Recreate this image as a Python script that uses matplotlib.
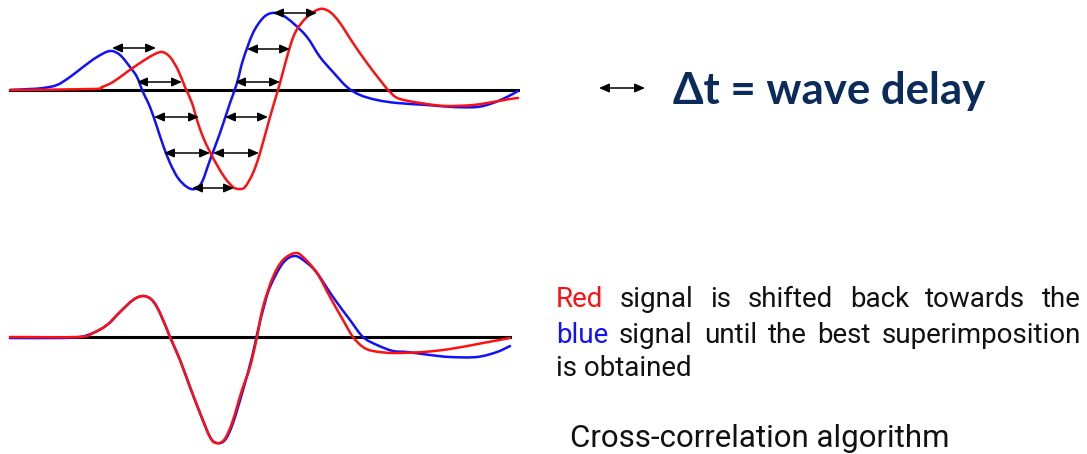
import matplotlib
matplotlib.use("Agg")
import matplotlib.pyplot as plt
from matplotlib.path import Path
from matplotlib.patches import PathPatch
import numpy as np

# ---------------- data (time in px-like units, signal level in px rows) ----------------
top_blue_t = [10, 30, 43, 57, 70, 83, 97, 110, 120, 130, 137, 143, 150, 157, 163, 170, 178, 187, 195, 202,
              210, 220, 230, 237, 243, 253, 263, 272, 282, 293, 307, 320, 333, 347, 360, 377, 397, 427, 453,
              477, 493, 507, 518]
top_blue_y = [90, 89, 88, 85, 77, 67, 57, 51, 55, 67, 77, 92, 107, 127, 145, 163, 178, 187, 189, 182,
              160, 133, 103, 83, 60, 33, 18, 13, 15, 23, 37, 57, 72, 87, 95, 100, 103, 105, 107,
              107, 103, 97, 91]

top_red_t = [10, 93, 102, 113, 127, 140, 153, 162, 170, 178, 185, 192, 197, 203, 210, 217, 225, 233, 239, 245,
             253, 260, 270, 280, 287, 295, 307, 320, 330, 340, 353, 367, 380, 390, 400, 427, 447, 473, 493,
             510, 518]
top_red_y = [90, 89, 87, 82, 72, 63, 55, 52, 57, 70, 87, 103, 120, 137, 152, 165, 178, 187, 189, 187,
             173, 153, 117, 83, 57, 33, 17, 9, 12, 23, 43, 63, 80, 92, 99, 104, 106, 105, 102,
             99, 98]

bot_blue_t = [10, 60, 80, 93, 107, 120, 133, 143, 152, 160, 170, 180, 190, 200, 210, 217, 225, 233, 243, 252,
              258, 263, 270, 283, 295, 307, 317, 333, 350, 363, 377, 393, 407, 430, 450, 477, 497, 510]
bot_blue_y = [338, 338, 337, 333, 325, 312, 300, 296, 300, 313, 337, 360, 387, 413, 437, 443, 440, 423, 390, 357,
              330, 310, 287, 263, 256, 263, 273, 297, 320, 337, 345, 351, 352, 355, 357, 357, 352, 346]

bot_red_t = [10, 78, 93, 107, 120, 133, 143, 152, 160, 170, 180, 190, 200, 210, 216, 224, 232, 242, 250, 257,
             263, 273, 283, 295, 303, 317, 330, 343, 353, 363, 373, 393, 423, 450, 483, 510]
bot_red_y = [337, 337, 333, 325, 312, 300, 296, 300, 313, 337, 360, 387, 413, 437, 443, 440, 423, 390, 367, 337,
             307, 277, 260, 253, 257, 273, 297, 320, 337, 347, 351, 353, 352, 349, 343, 338]

# delay arrows (row, blue side, red side)
arrow_y = [48, 82, 117, 153, 188, 153, 117, 82, 49, 13]
arrow_x0 = [112, 137, 154, 164, 192, 213, 225, 235, 247, 273]
arrow_x1 = [156, 182, 199, 210, 234, 259, 268, 280, 290, 317]

TOP_BASE = 90
BOT_BASE = 337

W, H = 1087, 454
fig = plt.figure(figsize=(W / 100, H / 100), dpi=100)
fig.patch.set_facecolor("white")

ax = fig.add_axes([0, 0, 1, 1])
ax.set_xlim(0, W)
ax.set_ylim(H, 0)
ax.axis("off")

RED = "#ff1010"
BLUE = "#1010ff"


def smooth_path(xs, ys):
    """Catmull-Rom curve through the given points, as cubic Bezier path segments."""
    p = np.column_stack([xs, ys]).astype(float)
    verts = [p[0]]
    codes = [Path.MOVETO]
    n = len(p)
    for i in range(n - 1):
        p0 = p[i - 1] if i > 0 else p[i]
        p1 = p[i]
        p2 = p[i + 1]
        p3 = p[i + 2] if i + 2 < n else p[i + 1]
        c1 = p1 + (p2 - p0) / 6.0
        c2 = p2 - (p3 - p1) / 6.0
        verts += [c1, c2, p2]
        codes += [Path.CURVE4] * 3
    return Path(verts, codes)


def draw_curve(xs, ys, color, z):
    patch = PathPatch(smooth_path(xs, ys), facecolor="none", edgecolor=color, lw=1.8,
                      capstyle="round", joinstyle="round", zorder=z)
    ax.add_patch(patch)


# top panel
ax.plot([10, 518], [TOP_BASE, TOP_BASE], color="black", lw=2.2, zorder=1)
draw_curve(top_blue_t, top_blue_y, BLUE, 2)
draw_curve(top_red_t, top_red_y, RED, 3)

astyle = "<|-|>,head_length=0.5,head_width=0.22"
for yy, a, b in zip(arrow_y, arrow_x0, arrow_x1):
    ax.annotate("", xy=(b, yy), xytext=(a, yy),
                arrowprops=dict(arrowstyle=astyle, color="black", lw=1.1,
                                shrinkA=0, shrinkB=0, mutation_scale=12), zorder=4)

# bottom panel
ax.plot([10, 510], [BOT_BASE, BOT_BASE], color="black", lw=2.2, zorder=1)
draw_curve(bot_blue_t, bot_blue_y, BLUE, 2)
draw_curve(bot_red_t, bot_red_y, RED, 3)

# legend arrow + title
ax.annotate("", xy=(645, 88), xytext=(599, 88),
            arrowprops=dict(arrowstyle=astyle, color="black", lw=1.1,
                            shrinkA=0, shrinkB=0, mutation_scale=12))
ax.text(673, 104, "\u0394t = wave delay", fontfamily="Lato", fontweight="bold",
        fontsize=31.5, color="#0b2b5b", ha="left", va="baseline")

# paragraph (justified)
FS = 20
renderer = fig.canvas.get_renderer()


def word_width(w, fs):
    t = ax.text(0, 0, w, fontfamily="Roboto", fontsize=fs)
    bb = t.get_window_extent(renderer=renderer)
    t.remove()
    return bb.width


INK = "#111111"
lines = [
    [("Red", RED), ("signal", INK), ("is", INK), ("shifted", INK),
     ("back", INK), ("towards", INK), ("the", INK)],
    [("blue", BLUE), ("signal", INK), ("until", INK), ("the", INK),
     ("best", INK), ("superimposition", INK)],
]
x_left, x_right = 556, 1081
baselines = [307, 343]
for words, yb in zip(lines, baselines):
    widths = [word_width(w, FS) for w, _ in words]
    gap = (x_right - x_left - sum(widths)) / (len(words) - 1)
    x = x_left
    for (w, c), wd in zip(words, widths):
        ax.text(x, yb, w, fontfamily="Roboto", fontsize=FS, color=c, ha="left", va="baseline")
        x += wd + gap
ax.text(x_left, 376, "is obtained", fontfamily="Roboto", fontsize=FS, color=INK,
        ha="left", va="baseline")

ax.text(570, 447, "Cross-correlation algorithm", fontfamily="Roboto", fontsize=22.5,
        color=INK, ha="left", va="baseline")

fig.savefig("out.png", dpi=100, facecolor="white")
